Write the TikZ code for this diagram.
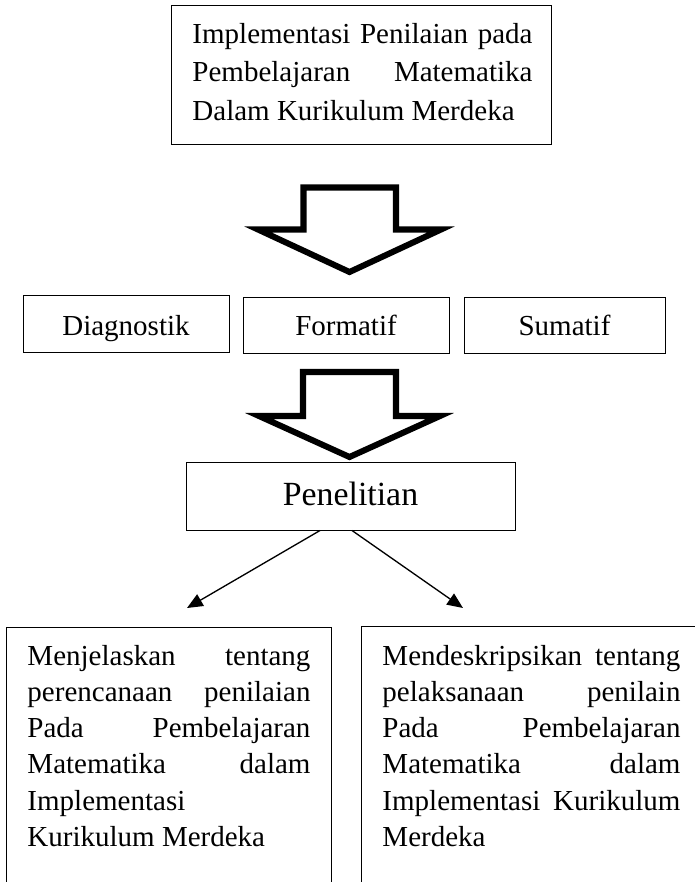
\documentclass[tikz,border=0pt]{standalone}
\usepackage{fontspec}
\setmainfont{Liberation Serif}
\usetikzlibrary{arrows.meta}
\def\pxu{0.41379pt}
\newcommand\jline[1]{\makebox[\linewidth][s]{#1}}
\begin{document}
\begin{tikzpicture}[x=0.41379pt,y=-0.41379pt,
  box/.style={draw=black, line width=0.6pt, inner sep=0pt, anchor=north west},
  txt/.style={inner sep=0pt, anchor=base west},
  lbl/.style={inner sep=0pt, anchor=base, font=\fontsize{12}{14}\selectfont},
  bigarrow/.style={draw=black, line width=2.5pt, fill=white, line join=miter},
  conn/.style={line width=0.55pt, -{Triangle[length=6.5pt,width=5.5pt]}}]
\useasboundingbox (0,0) rectangle (695,882);
\clip (0,0) rectangle (695,882);

% top box
\node[box, minimum width=380*\pxu, minimum height=139*\pxu] (top) at (171,5) {};
\node[txt] (toptext) at (192,43) {\parbox[t]{140.69pt}{\fontsize{12}{16.0}\selectfont
  \jline{Implementasi Penilaian pada}\\
  \jline{Pembelajaran Matematika}\\
  Dalam Kurikulum Merdeka}};

% first big arrow
\path[bigarrow] (303.5,187.5) -- (396,187.5) -- (396,229.5) -- (441,229.5)
  -- (349.5,272) -- (258,229.5) -- (303.5,229.5) -- cycle;

% row of three boxes
\node[box, minimum width=206*\pxu, minimum height=57*\pxu] (diag) at (23,295) {};
\node[box, minimum width=206*\pxu, minimum height=56*\pxu] (form) at (243,297) {};
\node[box, minimum width=201*\pxu, minimum height=56*\pxu] (sum) at (464,297) {};
\node[lbl] (diagtext) at (126,335) {Diagnostik};
\node[lbl] (formtext) at (346,335) {Formatif};
\node[lbl] (sumtext) at (564.5,335) {Sumatif};

% second big arrow
\path[bigarrow] (303,372) -- (396,372) -- (396,416) -- (440,416)
  -- (349.5,457) -- (259,416) -- (303,416) -- cycle;

% Penelitian
\node[box, minimum width=329*\pxu, minimum height=68*\pxu] (pen) at (186,462) {};
\node[inner sep=0pt, anchor=base, font=\fontsize{14}{17}\selectfont] (pentext) at (350.5,505) {Penelitian};

% connectors
\coordinate (ls) at (320,530.5);
\coordinate (rs) at (352,530.5);
\coordinate (le) at (187,608);
\coordinate (re) at (463,608);
\draw[conn] (ls) -- (le);
\draw[conn] (rs) -- (re);

% bottom boxes (cut off by the lower and right edges)
\node[box, minimum width=325*\pxu, minimum height=300*\pxu] (lbox) at (6,627) {};
\node[box, minimum width=380*\pxu, minimum height=300*\pxu] (rbox) at (361,626) {};
\node[txt] (ltext) at (27,665) {\parbox[t]{117.10pt}{\fontsize{12}{15.03}\selectfont
  \jline{Menjelaskan tentang}\\
  \jline{perencanaan penilaian}\\
  \jline{Pada Pembelajaran}\\
  \jline{Matematika dalam}\\
  Implementasi\\
  Kurikulum Merdeka}};
\node[txt] (rtext) at (382,665) {\parbox[t]{123.31pt}{\fontsize{12}{15.03}\selectfont
  \jline{Mendeskripsikan tentang}\\
  \jline{pelaksanaan penilain}\\
  \jline{Pada Pembelajaran}\\
  \jline{Matematika dalam}\\
  \jline{Implementasi Kurikulum}\\
  Merdeka}};
\end{tikzpicture}
\end{document}
